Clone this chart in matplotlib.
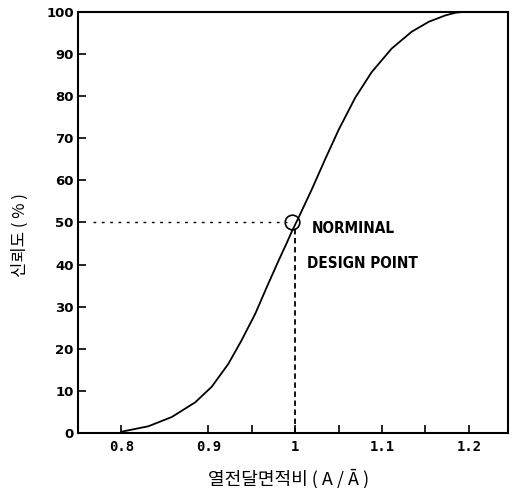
import matplotlib
matplotlib.use("Agg")
import matplotlib.pyplot as plt
from matplotlib.ticker import FixedLocator

# curve: reliability (%) vs heat transfer area ratio
ratio = [0.800, 0.831, 0.858, 0.885, 0.904, 0.923, 0.938, 0.954, 0.967, 0.981,
         0.990, 0.996, 1.004, 1.019, 1.034, 1.050, 1.069, 1.088, 1.111, 1.134,
         1.154, 1.173, 1.184, 1.192]
reliability = [0.3, 1.6, 3.8, 7.3, 11.0, 16.4, 21.9, 28.3, 34.5, 41.0,
               45.0, 47.8, 51.2, 57.8, 64.8, 72.0, 79.6, 85.7, 91.3, 95.3,
               97.7, 99.2, 99.8, 100.0]

design_x = 1.0
design_y = 50
design_label = ["NORMINAL", "DESIGN POINT"]

x_major = [0.8, 0.9, 1.0, 1.1, 1.2]
x_major_labels = ["0.8", "0.9", "1", "1.1", "1.2"]
x_minor = [0.95, 1.05, 1.15]
y_ticks = list(range(0, 101, 10))

xlabel = "열전달면적비 ( A / Ā )"
ylabel = "신뢰도 ( % )"

fig = plt.figure(figsize=(5.13, 4.88), dpi=100)
ax = fig.add_axes([78 / 513, 55 / 488, 430 / 513, 421 / 488])

ax.plot(ratio, reliability, color="black", lw=1.3)

# guide lines to the nominal design point
ax.plot([0.767, design_x - 0.009], [design_y, design_y], color="black",
        lw=1.0, linestyle=(0, (2, 4)))
ax.plot([design_x, design_x], [0, design_y - 1.5], color="black",
        lw=1.3, linestyle=(0, (3, 2)))
ax.plot([design_x - 0.004], [design_y], marker="o", mfc="none", mec="black",
        ms=10.5, mew=1.2)

ax.text(1.0195, 47.6, design_label[0], fontsize=11, fontweight="bold",
        family=["DejaVu Sans"], stretch="condensed", va="baseline")
ax.text(1.0135, 39.3, design_label[1], fontsize=11, fontweight="bold",
        family=["DejaVu Sans"], stretch="condensed", va="baseline")

ax.set_xlim(0.75, 1.245)
ax.set_ylim(0, 100)

ax.xaxis.set_major_locator(FixedLocator(x_major))
ax.set_xticklabels(x_major_labels, family="DejaVu Sans Mono", fontsize=10,
                   fontweight="bold")
ax.xaxis.set_minor_locator(FixedLocator(x_minor))
ax.set_yticks(y_ticks)
ax.set_yticklabels([str(v) for v in y_ticks], fontsize=9.5, fontweight="bold")

ax.tick_params(axis="both", which="both", direction="in", length=6, width=1.2,
               top=False, right=False)
ax.tick_params(axis="y", pad=3)
ax.tick_params(axis="x", pad=5)

for s in ax.spines.values():
    s.set_linewidth(1.5)

ax.set_xlabel(xlabel, family=["Noto Sans CJK KR", "DejaVu Sans"], fontsize=13)
ax.xaxis.set_label_coords(0.49, -0.085)
ax.set_ylabel(ylabel, family=["Noto Sans CJK KR", "DejaVu Sans"], fontsize=12)
ax.yaxis.set_label_coords(-0.115, 0.47)

fig.savefig("out.png", dpi=100)
